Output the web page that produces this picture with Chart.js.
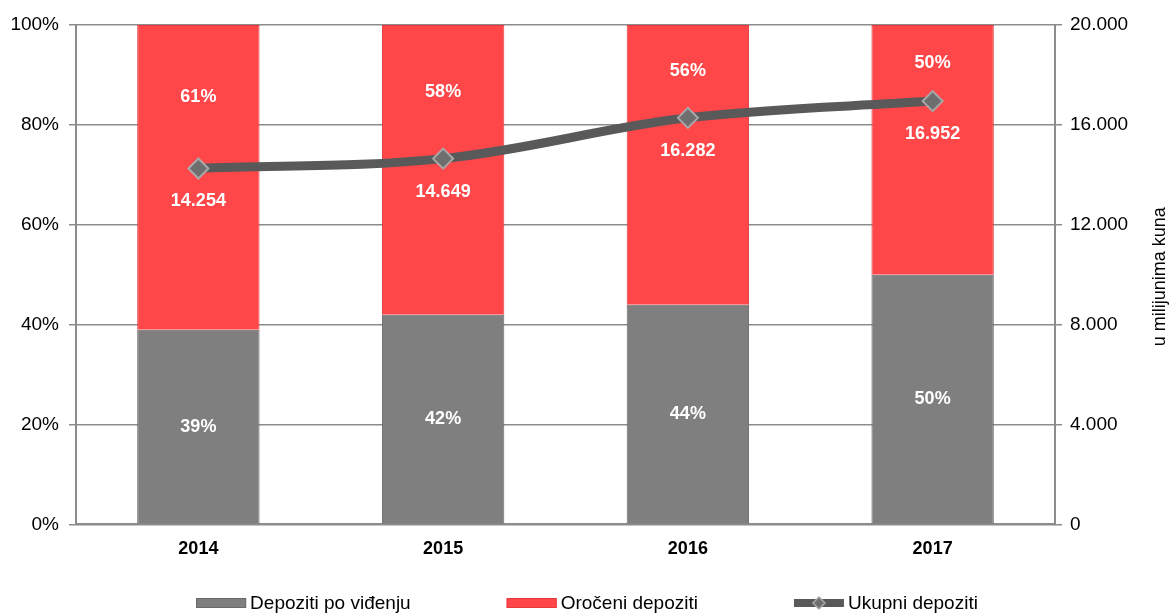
<!DOCTYPE html>
<html>
<head>
<meta charset="utf-8">
<script src="https://cdn.jsdelivr.net/npm/chart.js@4"></script>
<style>
  html, body { margin: 0; padding: 0; background: #fff; }
  #wrap { width: 1174px; height: 614px; }
</style>
</head>
<body>
<div id="wrap"><canvas id="depositChart" width="1174" height="614"></canvas></div>
<script>
const years = ['2014', '2015', '2016', '2017'];

const demandShare = [39, 42, 44, 50];
const termShare = [61, 58, 56, 50];
const totalDeposits = [14254, 14649, 16282, 16952];

const leftTicks = [0, 20, 40, 60, 80, 100];
const rightTicks = [0, 4000, 8000, 12000, 16000, 20000];

const fmt = (v) => v.toString().replace(/\B(?=(\d{3})+(?!\d))/g, '.');

const FONT = '"Liberation Sans", Arial, sans-serif';

// white value labels on bars and under the line points
const valueLabels = {
  id: 'valueLabels',
  afterDatasetsDraw(chart) {
    const { ctx } = chart;
    const area = chart.chartArea;
    const lineMeta = chart.getDatasetMeta(2);
    ctx.save();
    ctx.fillStyle = '#ffffff';
    ctx.font = 'bold 18px ' + FONT;
    ctx.textAlign = 'center';
    ctx.textBaseline = 'middle';

    chart.getDatasetMeta(0).data.forEach((bar, i) => {
      ctx.fillText(demandShare[i] + '%', bar.x, (bar.y + bar.base) / 2);
    });

    chart.getDatasetMeta(1).data.forEach((bar, i) => {
      const pt = lineMeta.data[i];
      ctx.fillText(termShare[i] + '%', bar.x, (area.top + pt.y) / 2);
    });

    lineMeta.data.forEach((pt, i) => {
      ctx.fillText(fmt(totalDeposits[i]), pt.x, pt.y + 33);
    });
    ctx.restore();
  },
};

// right axis title (reads bottom to top) and the legend row
const extras = {
  id: 'extras',
  afterDraw(chart) {
    const { ctx } = chart;
    const area = chart.chartArea;
    ctx.save();
    ctx.fillStyle = '#000';
    ctx.font = '18px ' + FONT;
    ctx.textAlign = 'center';
    ctx.textBaseline = 'middle';
    ctx.translate(1160, (area.top + area.bottom) / 2 + 2);
    ctx.rotate(-Math.PI / 2);
    ctx.fillText('u milijunima kuna', 0, 0);
    ctx.restore();

    ctx.save();
    ctx.font = '19px ' + FONT;
    ctx.textBaseline = 'middle';
    const boxW = 50, gapText = 4, gapItem = 96;
    const items = chart.data.datasets.map((ds) => ds.label);
    const widths = items.map((t) => boxW + gapText + ctx.measureText(t).width);
    const total = widths.reduce((a, b) => a + b, 0) + gapItem * (items.length - 1);
    let x = (chart.width - total) / 2;
    const y = 603;
    chart.data.datasets.forEach((ds, i) => {
      if (ds.type === 'line') {
        ctx.strokeStyle = ds.borderColor;
        ctx.lineWidth = 8;
        ctx.beginPath();
        ctx.moveTo(x, y);
        ctx.lineTo(x + boxW, y);
        ctx.stroke();
        ctx.fillStyle = ds.pointBackgroundColor;
        ctx.strokeStyle = ds.pointBorderColor;
        ctx.lineWidth = 1.5;
        ctx.beginPath();
        ctx.moveTo(x + boxW / 2, y - 6);
        ctx.lineTo(x + boxW / 2 + 6, y);
        ctx.lineTo(x + boxW / 2, y + 6);
        ctx.lineTo(x + boxW / 2 - 6, y);
        ctx.closePath();
        ctx.fill();
        ctx.stroke();
      } else {
        ctx.fillStyle = ds.backgroundColor;
        ctx.fillRect(x, y - 5, boxW, 10);
        ctx.strokeStyle = ds.borderColor;
        ctx.lineWidth = 1;
        ctx.strokeRect(x + 0.5, y - 5 + 0.5, boxW - 1, 9);
      }
      ctx.fillStyle = '#000';
      ctx.textAlign = 'left';
      ctx.fillText(ds.label, x + boxW + gapText, y + 1);
      x += widths[i] + gapItem;
    });
    ctx.restore();
  },
};

new Chart(document.getElementById('depositChart'), {
  data: {
    labels: years,
    datasets: [
      {
        type: 'bar',
        label: 'Depoziti po viđenju',
        data: demandShare,
        backgroundColor: '#7f7f7f',
        borderColor: '#6a6a6a',
        borderWidth: 1,
        stack: 's',
        yAxisID: 'y',
        order: 2,
        barPercentage: 0.5,
        categoryPercentage: 1,
      },
      {
        type: 'bar',
        label: 'Oročeni depoziti',
        data: termShare,
        backgroundColor: '#ff474a',
        borderColor: '#e23a3d',
        borderWidth: 1,
        stack: 's',
        yAxisID: 'y',
        order: 2,
        barPercentage: 0.5,
        categoryPercentage: 1,
      },
      {
        type: 'line',
        label: 'Ukupni depoziti',
        data: totalDeposits,
        yAxisID: 'y2',
        borderColor: '#595959',
        backgroundColor: '#595959',
        borderWidth: 9,
        tension: 0.35,
        pointStyle: 'rectRot',
        pointRadius: 10,
        pointHoverRadius: 10,
        pointBackgroundColor: '#6e6e6e',
        pointBorderColor: '#a8a8a8',
        pointBorderWidth: 2,
        order: 1,
      },
    ],
  },
  options: {
    responsive: false,
    animation: false,
    layout: { padding: { top: 25, left: 0, right: 0, bottom: 48 } },
    plugins: {
      legend: { display: false },
      tooltip: { enabled: false },
    },
    scales: {
      x: {
        stacked: true,
        grid: { display: false },
        border: { color: '#8c8c8c', width: 2 },
        ticks: {
          color: '#000',
          font: { family: FONT, size: 18, weight: 'bold' },
          padding: 6,
        },
      },
      y: {
        stacked: true,
        position: 'left',
        min: 0,
        max: 100,
        afterBuildTicks: (axis) => { axis.ticks = leftTicks.map((v) => ({ value: v })); },
        afterFit: (axis) => { axis.width = 76; },
        grid: { color: '#8c8c8c', lineWidth: 1.5, tickLength: 7 },
        border: { color: '#8c8c8c', width: 2 },
        ticks: {
          color: '#000',
          font: { family: FONT, size: 19 },
          padding: 10,
          callback: (v) => v + '%',
        },
      },
      y2: {
        position: 'right',
        min: 0,
        max: 20000,
        afterBuildTicks: (axis) => { axis.ticks = rightTicks.map((v) => ({ value: v })); },
        afterFit: (axis) => { axis.width = 119; },
        grid: { drawOnChartArea: false, color: '#8c8c8c', lineWidth: 1.5, tickLength: 7 },
        border: { color: '#8c8c8c', width: 2 },
        ticks: {
          color: '#000',
          font: { family: FONT, size: 19 },
          padding: 8,
          callback: (v) => fmt(v),
        },
      },
    },
  },
  plugins: [valueLabels, extras],
});
</script>
</body>
</html>
